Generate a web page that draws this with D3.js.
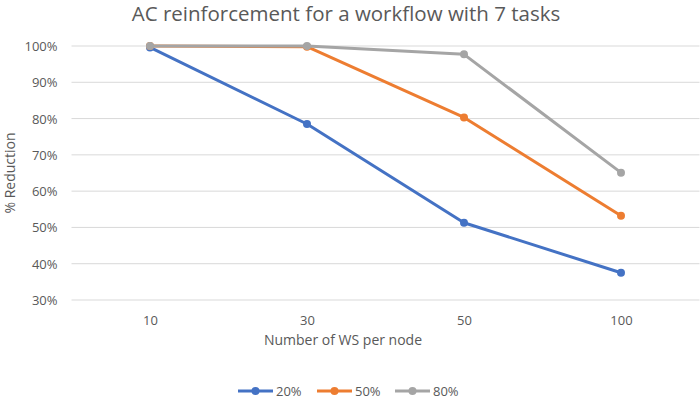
<!DOCTYPE html>
<html>
<head>
<meta charset="utf-8">
<script src="https://cdn.jsdelivr.net/npm/d3@7"></script>
<style>
	body { margin: 0; background: #fff; }
	text { font-family: "Open Sans", "Noto Sans", sans-serif; fill: #595959; }
</style>
</head>
<body>
<div id="chart"></div>
<script>
const width = 700;
const height = 399;

const CATEGORIES = ["10", "30", "50", "100"];
const SERIES_NAMES = ["20%", "50%", "80%"];
const SERIES_20 = [99.6, 78.5, 51.3, 37.5];
const SERIES_50 = [100, 99.8, 80.3, 53.2];
const SERIES_80 = [100, 100, 97.7, 65.1];
const Y_TICKS = [30, 40, 50, 60, 70, 80, 90, 100];

const COLORS = ["#4472C4", "#ED7D31", "#A5A5A5"];

const series = [SERIES_20, SERIES_50, SERIES_80];

const margin = { left: 71.5, right: 0.5, top: 46, bottom: 99 };

let svg = d3
	.select("#chart")
	.append("svg")
	.attr("width", width)
	.attr("height", height);

const x = d3
	.scalePoint()
	.domain(CATEGORIES)
	.range([margin.left, width - margin.right])
	.padding(0.5);

const y = d3
	.scaleLinear()
	.domain([30, 100])
	.range([height - margin.bottom, margin.top]);

// gridlines
svg
	.append("g")
	.selectAll("line")
	.data(Y_TICKS)
	.join("line")
	.attr("x1", margin.left)
	.attr("x2", width - margin.right)
	.attr("y1", (d) => y(d))
	.attr("y2", (d) => y(d))
	.style("stroke", "#d9d9d9")
	.style("stroke-width", 1);

// y axis labels
const yAxis = svg
	.append("g")
	.attr("transform", "translate(" + (margin.left - 14) + ",0)")
	.call(d3.axisLeft(y).tickValues(Y_TICKS).tickSize(0).tickFormat((d) => d + "%"));
yAxis.select(".domain").remove();
yAxis.selectAll("text").style("font-size", "13px").attr("dy", "0.35em").attr("x", 0);

// x axis labels
const xAxis = svg
	.append("g")
	.attr("transform", "translate(0," + (height - margin.bottom) + ")")
	.call(d3.axisBottom(x).tickSize(0));
xAxis.select(".domain").remove();
xAxis.selectAll("text").style("font-size", "13px").attr("y", 25).attr("dy", 0);

// lines
const line = d3
	.line()
	.x((d, i) => x(CATEGORIES[i]))
	.y((d) => y(d));

series.forEach((values, s) => {
	svg
		.append("path")
		.datum(values)
		.attr("d", line)
		.style("fill", "none")
		.style("stroke", COLORS[s])
		.style("stroke-width", 3)
		.style("stroke-linejoin", "round");
	svg
		.append("g")
		.selectAll("circle")
		.data(values)
		.join("circle")
		.attr("cx", (d, i) => x(CATEGORIES[i]))
		.attr("cy", (d) => y(d))
		.attr("r", 4)
		.style("fill", COLORS[s]);
});

// title
svg
	.append("text")
	.attr("x", 346)
	.attr("y", 21)
	.attr("text-anchor", "middle")
	.style("font-size", "20.5px")
	.text("AC reinforcement for a workflow with 7 tasks");

// axis titles
svg
	.append("text")
	.attr("x", 343)
	.attr("y", 345)
	.attr("text-anchor", "middle")
	.style("font-size", "14px")
	.text("Number of WS per node");

svg
	.append("text")
	.attr("transform", "translate(15,173) rotate(-90)")
	.attr("text-anchor", "middle")
	.style("font-size", "14px")
	.text("% Reduction");

// legend
const legendX = [238, 317, 395];
const legend = svg
	.append("g")
	.selectAll("g")
	.data(SERIES_NAMES)
	.join("g")
	.attr("transform", (d, i) => "translate(" + legendX[i] + ",391)");
legend
	.append("line")
	.attr("x1", 0)
	.attr("x2", 35)
	.style("stroke", (d, i) => COLORS[i])
	.style("stroke-width", 3);
legend
	.append("circle")
	.attr("cx", 17.5)
	.attr("r", 4)
	.style("fill", (d, i) => COLORS[i]);
legend
	.append("text")
	.attr("x", 38)
	.attr("dy", "0.35em")
	.style("font-size", "13px")
	.text((d) => d);
</script>
</body>
</html>
